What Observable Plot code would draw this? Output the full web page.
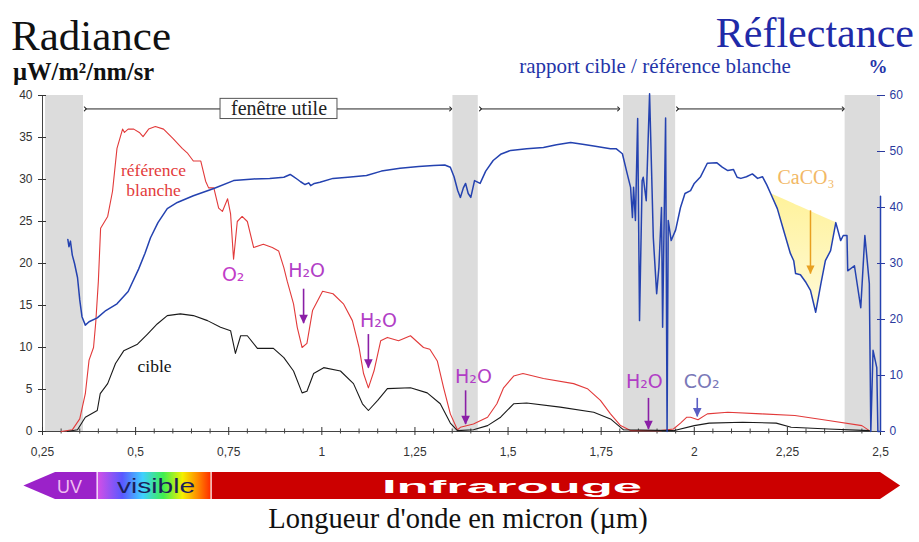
<!DOCTYPE html>
<html><head><meta charset="utf-8">
<script src="https://cdn.jsdelivr.net/npm/d3@7"></script>
<script src="https://cdn.jsdelivr.net/npm/@observablehq/plot@0.6"></script>
<style>
body{margin:0;background:#fff}
#chart{position:relative;width:919px;height:542px;overflow:hidden}
</style>
</head><body><div id="chart"></div>
<script>
// ---------- data (wavelength in µm) ----------
const xTicks = [0.25, 0.5, 0.75, 1, 1.25, 1.5, 1.75, 2, 2.25, 2.5];
const leftTicks = [0, 5, 10, 15, 20, 25, 30, 35, 40];      // radiance µW/m²/nm/sr
const rightTicks = [0, 10, 20, 30, 40, 50, 60];             // réflectance %

// référence blanche (radiance)
const reference = [[0.30,0],[0.33,0.2],[0.35,1.5],[0.365,4.5],[0.375,8.5],[0.387,10.0],[0.393,13],[0.40,17.9],[0.406,24.2],[0.425,25.6],[0.438,28.6],[0.45,33.7],[0.465,36.0],[0.47,35.6],[0.48,36.0],[0.495,36.0],[0.51,35.6],[0.52,35.1],[0.535,36.0],[0.553,36.3],[0.575,36.0],[0.60,34.9],[0.625,33.7],[0.64,33.1],[0.655,32.2],[0.675,32.2],[0.688,29.8],[0.696,29.0],[0.71,29.0],[0.723,26.6],[0.733,26.2],[0.747,27.7],[0.755,25.9],[0.763,20.5],[0.773,25.0],[0.786,25.6],[0.80,25.0],[0.817,21.9],[0.843,22.3],[0.867,21.9],[0.884,21.5],[0.898,19.5],[0.907,17.9],[0.924,15.2],[0.934,12.4],[0.947,10.0],[0.96,10.5],[0.975,14.4],[1.002,16.7],[1.03,16.4],[1.058,15.2],[1.082,13.2],[1.10,10.0],[1.112,6.9],[1.125,5.2],[1.14,7.2],[1.158,10.8],[1.176,11.2],[1.206,10.8],[1.238,11.4],[1.273,10.0],[1.29,9.8],[1.31,8.4],[1.327,5.2],[1.345,2.1],[1.364,0.2],[1.372,0.5],[1.407,0.9],[1.445,1.7],[1.47,3.3],[1.488,5.2],[1.515,6.6],[1.54,6.9],[1.595,6.3],[1.676,5.7],[1.713,5.1],[1.748,3.7],[1.775,2.1],[1.802,0.7],[1.83,0.1],[1.91,0.1],[1.944,0.3],[1.963,1.0],[1.98,1.7],[1.99,1.7],[2.01,1.4],[2.035,2.1],[2.09,2.3],[2.18,2.1],[2.27,1.9],[2.36,1.3],[2.45,0.7],[2.47,0.1]];

// cible (radiance)
const target = [[0.317,0],[0.344,0.2],[0.365,1.7],[0.397,2.5],[0.405,4.5],[0.425,5.7],[0.446,8.1],[0.468,9.6],[0.505,10.4],[0.532,11.6],[0.558,12.8],[0.585,13.8],[0.62,14.0],[0.655,13.8],[0.693,13.2],[0.728,12.4],[0.755,12.0],[0.768,9.3],[0.782,11.4],[0.80,11.4],[0.827,9.9],[0.87,9.9],[0.898,8.8],[0.924,7.2],[0.947,4.6],[0.96,4.8],[0.978,6.9],[1.005,7.6],[1.05,7.2],[1.085,5.7],[1.109,3.3],[1.125,2.5],[1.15,3.7],[1.176,5.1],[1.238,5.2],[1.283,4.6],[1.318,3.3],[1.345,1.0],[1.364,0.1],[1.407,0.2],[1.445,0.7],[1.48,1.7],[1.515,3.3],[1.55,3.4],[1.64,2.9],[1.73,2.3],[1.775,1.5],[1.81,0.2],[1.944,0.1],[2.0,0.7],[2.04,1.0],[2.13,1.1],[2.22,1.0],[2.26,0.5],[2.36,0.3],[2.47,0.1]];

// rapport cible / référence blanche (réflectance %)
const reflectance = [[0.318,34.3],[0.321,33.0],[0.325,34.0],[0.33,31.5],[0.336,30.0],[0.344,27.5],[0.35,23.5],[0.356,20.5],[0.365,19.0],[0.375,19.6],[0.397,20.3],[0.42,21.6],[0.45,22.8],[0.48,25.0],[0.508,29.0],[0.525,31.8],[0.54,34.6],[0.56,37.3],[0.585,39.8],[0.612,40.9],[0.655,42.1],[0.71,43.4],[0.763,44.8],[0.817,45.1],[0.86,45.2],[0.898,45.4],[0.915,45.9],[0.924,45.5],[0.935,45.0],[0.943,44.6],[0.955,44.1],[0.965,44.4],[0.97,43.9],[0.98,44.3],[0.995,44.5],[1.03,45.2],[1.07,45.4],[1.12,45.7],[1.16,46.5],[1.21,47.0],[1.26,47.3],[1.30,47.5],[1.33,47.6],[1.345,47.2],[1.355,45.5],[1.365,43.0],[1.372,41.8],[1.38,43.5],[1.386,44.3],[1.393,42.5],[1.40,41.8],[1.41,44.8],[1.425,44.3],[1.44,46.5],[1.46,48.4],[1.48,49.5],[1.507,50.2],[1.55,50.5],[1.595,50.7],[1.63,51.2],[1.668,51.6],[1.70,51.3],[1.73,51.0],[1.775,50.5],[1.79,50.5],[1.807,49.6],[1.82,46.0],[1.829,43.6],[1.834,38.2],[1.837,43.6],[1.842,37.7],[1.848,55.9],[1.853,19.8],[1.86,44.8],[1.863,45.4],[1.871,41.2],[1.88,60.3],[1.89,34.6],[1.899,24.6],[1.905,29.3],[1.912,40],[1.915,18.6],[1.923,56],[1.927,0],[1.93,37.7],[1.938,34.1],[1.95,36],[1.963,40],[1.975,42.5],[1.99,43],[2.0,44.3],[2.017,45.5],[2.035,47.9],[2.06,48.0],[2.075,47.2],[2.09,46.6],[2.105,46.8],[2.115,45.4],[2.125,45.2],[2.14,45.5],[2.156,46.0],[2.17,45.2],[2.183,45.5],[2.195,44.0],[2.205,42.5],[2.223,39.8],[2.24,35.9],[2.258,31.8],[2.267,30.5],[2.272,28.2],[2.285,28.0],[2.30,26.6],[2.312,25.2],[2.326,21.3],[2.34,26.4],[2.352,30.5],[2.366,32.3],[2.38,37.3],[2.393,34.1],[2.40,35.0],[2.41,35.0],[2.412,28.7],[2.43,29.6],[2.447,22.1],[2.458,35.0],[2.47,26.4],[2.474,0],[2.48,14.5],[2.49,11.4],[2.493,0],[2.5,0],[2.5,42]];

// atmospheric absorption bands (gray)
const bands = [[0.258,0.36],[1.352,1.42],[1.81,1.95],[2.405,2.5]];
// "fenêtre utile" arrows [from, to]
const windows = [[0.365,1.346],[1.426,1.797],[1.955,2.40]];
const windowLabel = [{x:0.885, x1:0.728, x2:1.042, y:38.4, y1:37.2, y2:39.6, text:"fenêtre utile"}];
// CaCO3 absorption continuum (réflectance %)
const caco3Continuum = [[2.205,42.5],[2.38,37.3]];
const caco3Arrow = [{x:2.312, from:39.5, to:28.2}];
const caco3Label = [{x:2.30, r:45.4, text:"CaCO₃"}];

// absorption labels (radiance units)
const absLabels = [
  {text:"O₂",  x:0.762, y:18.6, color:"#c23cc8"},
  {text:"H₂O", x:0.959, y:19.1, color:"#b13ec6"},
  {text:"H₂O", x:1.152, y:13.2, color:"#b13ec6"},
  {text:"H₂O", x:1.407, y:6.5,  color:"#b13ec6"},
  {text:"H₂O", x:1.866, y:5.9,  color:"#b13ec6"},
  {text:"CO₂", x:2.02,  y:5.9,  color:"#7a78b8"}
];
const absArrows = [
  {x:0.951, from:17.0, to:12.9, color:"#8a1fa6"},
  {x:1.125, from:11.6, to:7.6,  color:"#8a1fa6"},
  {x:1.386, from:4.9,  to:0.9,  color:"#8a1fa6"},
  {x:1.877, from:4.0,  to:0.3,  color:"#8a1fa6"},
  {x:2.008, from:4.0,  to:1.8,  color:"#5b5fc4"}
];
const seriesLabels = [
  {text:"référence\nblanche", x:0.548, y:30.0, color:"#e33b3b"},
  {text:"cible", x:0.551, y:7.8, color:"#111"}
];
// spectral domains
const domains = [
  {name:"UV", tip:0.2, from:0.285, to:0.398},
  {name:"visible", from:0.398, to:0.704},
  {name:"Infrarouge", from:0.704, to:2.5, tip:2.554}
];

// ---------- derived ----------
const K = 40 / 60; // réflectance % -> radiance axis units
const refData = reference.map(([w, v]) => ({w, v}));
const tarData = target.map(([w, v]) => ({w, v}));
const blueData = reflectance.map(([w, r]) => ({w, v: r * K}));
const [[c0w, c0r], [c1w, c1r]] = caco3Continuum;
const caco3Area = reflectance
  .filter(([w]) => w >= c0w && w <= c1w)
  .map(([w, r]) => ({w, top: (c0r + (c1r - c0r) * (w - c0w) / (c1w - c0w)) * K, bot: r * K}));

const downTri = {draw(ctx, size) {const r = Math.sqrt(size / 3); ctx.moveTo(-r, -r); ctx.lineTo(r, -r); ctx.lineTo(0, r * 1.1); ctx.closePath();}};
const SERIF = "Liberation Serif, Times New Roman, serif";
const SANS = "Liberation Sans, Arial, sans-serif";
const fmt = d => String(d).replace(".", ",");

const plot = Plot.plot({
  width: 919, height: 542,
  marginTop: 95, marginBottom: 111, marginLeft: 42, marginRight: 39,
  x: {domain: [0.25, 2.5]},
  y: {domain: [0, 40]},
  style: {fontFamily: SANS, fontSize: "12px", background: "white", overflow: "visible"},
  marks: [
    Plot.rect(bands, {x1: d => d[0], x2: d => d[1], y1: 0, y2: 40, fill: "#dcdcdc"}),
    Plot.areaY(caco3Area, {x: "w", y1: "top", y2: "bot", fill: "url(#yel)"}),
    // axes
    Plot.ruleX([0.25], {y1: 0, y2: 40, stroke: "#444"}),
    Plot.ruleY([0], {x1: 0.25, x2: 2.5, stroke: "#444"}),
    Plot.axisY(leftTicks, {anchor: "left", tickSize: 8, dx: 4, tickPadding: 6, color: "#333", label: null, fontSize: 12}),
    Plot.axisY(rightTicks.map(t => t * K), {anchor: "right", tickSize: 8, dx: -4, tickPadding: 5, color: "#2b3a9e", label: null, fontSize: 12, tickFormat: d => Math.round(d / K)}),
    Plot.axisX(d3.range(0.3, 2.5, 0.05).filter(d => Math.abs(d / 0.25 - Math.round(d / 0.25)) > 0.01), {tickSize: 5, dy: -2.5, tickFormat: () => "", color: "#444", label: null}),
    Plot.axisX(xTicks, {tickSize: 8, dy: -4, tickPadding: 12, tickFormat: fmt, color: "#333", label: null, fontSize: 12}),
    // window arrows
    Plot.link(windows, {x1: d => d[0], x2: d => d[1], y1: 38.4, y2: 38.4, stroke: "#222", strokeWidth: 1, markerStart: "arrow", markerEnd: "arrow"}),
    Plot.rect(windowLabel, {x1: "x1", x2: "x2", y1: "y1", y2: "y2", fill: "white", stroke: "#555", strokeWidth: 1}),
    Plot.text(windowLabel, {x: "x", y: "y", text: "text", fontFamily: SERIF, fontSize: 20, fill: "#222"}),
    // curves
    Plot.line(refData, {x: "w", y: "v", stroke: "#e23a3a", strokeWidth: 1.1}),
    Plot.line(tarData, {x: "w", y: "v", stroke: "#1a1a1a", strokeWidth: 1.1}),
    Plot.line(blueData, {x: "w", y: "v", stroke: "#2442b0", strokeWidth: 1.5}),
    // CaCO3
    Plot.link(caco3Arrow, {x1: "x", x2: "x", y1: d => d.from * K, y2: d => d.to * K, stroke: "#e8a020", strokeWidth: 1.5}),
    Plot.dot(caco3Arrow, {x: "x", y: d => d.to * K, symbol: downTri, r: 4, fill: "#e8a020", dy: -4}),
    Plot.text(caco3Label, {x: "x", y: d => d.r * K, text: "text", fontFamily: SERIF, fontSize: 20, fill: "#f2b865"}),
    // absorption annotations
    Plot.link(absArrows, {x1: "x", x2: "x", y1: "from", y2: "to", stroke: "color", strokeWidth: 1.6}),
    Plot.dot(absArrows, {x: "x", y: "to", symbol: downTri, r: 4.2, fill: "color", dy: -4}),
    Plot.text(absLabels, {x: "x", y: "y", text: "text", fill: "color", fontFamily: "DejaVu Sans, sans-serif", fontSize: 19}),
    Plot.text(seriesLabels, {x: "x", y: "y", text: "text", fill: "color", fontFamily: SERIF, fontSize: 17.5, lineHeight: 1.15})
  ]
});

const svg = d3.select(plot);
const defs = svg.insert("defs", ":first-child");
const yel = defs.append("linearGradient").attr("id", "yel").attr("x1", 0).attr("y1", 0).attr("x2", 0).attr("y2", 1);
yel.append("stop").attr("offset", "0%").attr("stop-color", "#fff29a");
yel.append("stop").attr("offset", "100%").attr("stop-color", "#fffad8");
const vis = defs.append("linearGradient").attr("id", "vis");
[["0%","#d64ee6"],["22%","#5a58ff"],["40%","#3fd0ff"],["58%","#3fef50"],["75%","#f4f000"],["88%","#ff8c00"],["100%","#ff2a00"]]
  .forEach(([o, c]) => vis.append("stop").attr("offset", o).attr("stop-color", c));

// ---------- layout text ----------
const T = (x, y, txt, opts = {}) => svg.append("text").attr("x", x).attr("y", y).text(txt)
  .attr("font-family", opts.family || SERIF).attr("font-size", opts.size || 16)
  .attr("font-weight", opts.weight || "normal").attr("fill", opts.fill || "#111")
  .attr("text-anchor", opts.anchor || "start");
T(11, 50, "Radiance", {size: 43});
T(13, 80, "µW/m²/nm/sr", {size: 24.5, weight: "bold"});
T(914, 47, "Réflectance", {size: 42, fill: "#1f2aa8", anchor: "end"});
T(655, 73, "rapport cible / référence blanche", {size: 21, fill: "#2434a8", anchor: "middle"});
T(878, 73, "%", {size: 19, weight: "bold", fill: "#2434a8", anchor: "middle"});
T(458, 528, "Longueur d'onde en micron (µm)", {size: 28.5, anchor: "middle"});

// ---------- spectral domain bar ----------
const X = plot.scale("x");
const yT = 472, yB = 499, yM = (yT + yB) / 2;
const [uv, visD, ir] = domains;
svg.append("path").attr("fill", "#9b22c9")
  .attr("d", `M${X.apply(uv.tip)},${yM}L${X.apply(uv.from)},${yT}L${X.apply(uv.to)},${yT}L${X.apply(uv.to)},${yB}L${X.apply(uv.from)},${yB}Z`);
svg.append("rect").attr("x", X.apply(visD.from)).attr("y", yT).attr("width", X.apply(visD.to) - X.apply(visD.from)).attr("height", yB - yT).attr("fill", "url(#vis)");
svg.append("path").attr("fill", "#cc0000")
  .attr("d", `M${X.apply(ir.from)},${yT}L${X.apply(ir.to)},${yT}L${X.apply(ir.tip)},${yM}L${X.apply(ir.to)},${yB}L${X.apply(ir.from)},${yB}Z`);
[visD.from, ir.from].forEach(v => svg.append("line").attr("x1", X.apply(v)).attr("x2", X.apply(v)).attr("y1", yT).attr("y2", yB).attr("stroke", "white").attr("stroke-width", 1.2));
T(69.5, yM + 7, uv.name, {family: SANS, size: 19, fill: "#f0bdf0", anchor: "middle"})
  .attr("textLength", 25).attr("lengthAdjust", "spacingAndGlyphs");
T(156, yM + 7, visD.name, {family: SANS, size: 20, fill: "#1c1f5a", anchor: "middle"})
  .attr("textLength", 78).attr("lengthAdjust", "spacingAndGlyphs");
T(512, yM + 7, ir.name, {family: SANS, size: 19, weight: "bold", fill: "white", anchor: "middle"})
  .attr("textLength", 260).attr("lengthAdjust", "spacingAndGlyphs");

document.getElementById("chart").appendChild(plot);
</script></body></html>
